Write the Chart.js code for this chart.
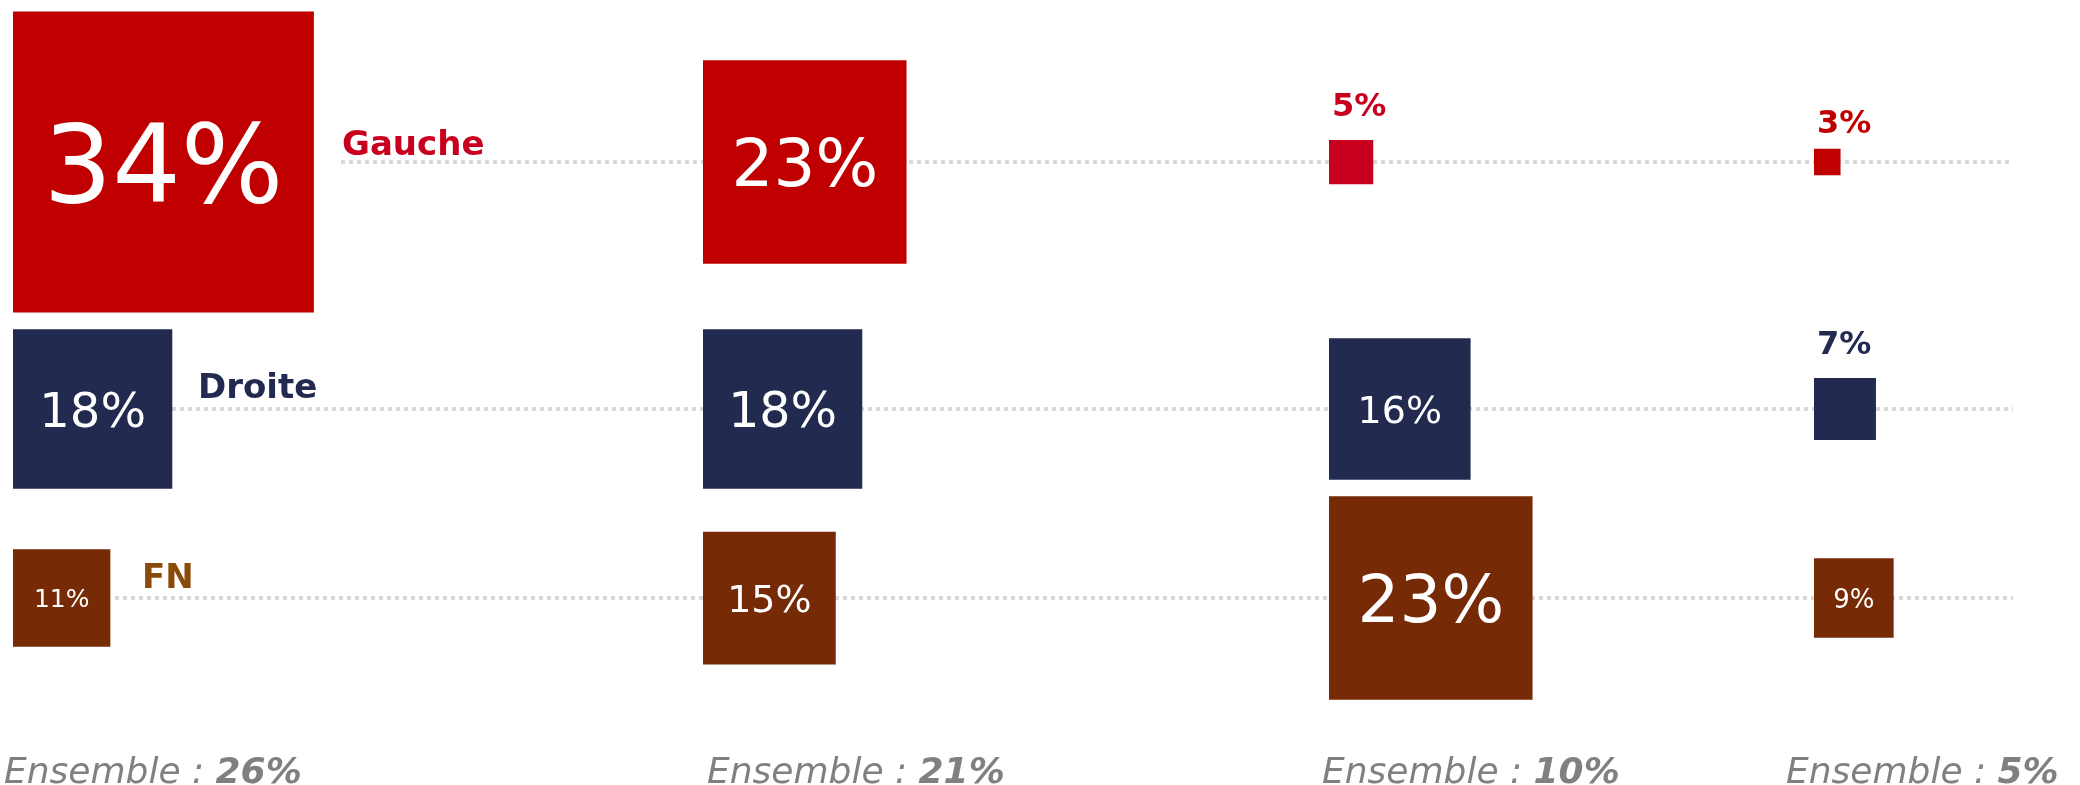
<!DOCTYPE html>
<html>
<head>
<meta charset="utf-8">
<script src="https://cdn.jsdelivr.net/npm/chart.js@4.4.1/dist/chart.umd.min.js"></script>
<style>
    html, body { margin: 0; padding: 0; background: #fff; }
    #wrap { width: 2080px; height: 785px; }
</style>
</head>
<body>
<div id="wrap"><canvas id="chart" width="2080" height="785"></canvas></div>
<script>
// Data: share per party, four groups
const parties = ['Gauche', 'Droite', 'FN'];
const gauche = [34, 23, 5, 3];
const droite = [18, 18, 16, 7];
const fn = [11, 15, 23, 9];
const ensemble = [26, 21, 10, 5];

// Layout, in the 2080x785 frame used by both axes
const W = 2080, H = 785;
const colLeft = [13, 703, 1329, 1814];
const rowY = [162, 409, 598];
const pxPerPoint = 8.85;
const lineStart = [341, 172, 115];
const lineEnd = 2013;
const rowLabelX = [342, 198, 142];
const rowLabelBase = [155, 398, 588];
const ensembleX = [4, 707, 1322, 1786];
const ensembleBase = 783;
// font size of the value written inside a square (0 = written above it)
const insideFont = [[108, 66, 0, 0], [48, 49, 38, 0], [25, 38, 66, 26]];

const boxColors = [
    ['#c00000', '#c00000', '#c8001e', '#c00000'],
    ['#222a50', '#222a50', '#222a50', '#222a50'],
    ['#772a06', '#772a06', '#772a06', '#772a06']
];
const labelColors = ['#c8001e', '#232a50', '#8a4a08'];
const gridColor = '#d9d9d9';
const font = '"DejaVu Sans", Verdana, sans-serif';

const series = [gauche, droite, fn];

function sidePx(chart, v) {
    const s = chart.scales.x;
    return s.getPixelForValue(v * pxPerPoint) - s.getPixelForValue(0);
}

// Dotted guide lines, drawn behind the squares
const lineSets = series.map((vals, r) => ({
    label: parties[r] + ' line',
    data: [{ x: lineStart[r], y: rowY[r] }, { x: lineEnd, y: rowY[r] }],
    showLine: true,
    borderColor: gridColor,
    borderWidth: 4,
    borderDash: [4, 4],
    pointRadius: 0,
    order: 2
}));

// Squares: side proportional to the value, left-aligned on each column
const boxSets = series.map((vals, r) => ({
    label: parties[r],
    data: vals.map((v, i) => ({ x: colLeft[i] + v * pxPerPoint / 2, y: rowY[r], v: v })),
    pointStyle: 'rect',
    pointRadius: ctx => ctx.raw ? sidePx(ctx.chart, ctx.raw.v) / (2 * Math.SQRT1_2) : 0,
    pointHoverRadius: ctx => ctx.raw ? sidePx(ctx.chart, ctx.raw.v) / (2 * Math.SQRT1_2) : 0,
    pointBorderWidth: 0,
    pointHoverBorderWidth: 0,
    backgroundColor: ctx => boxColors[r][ctx.dataIndex],
    pointBackgroundColor: ctx => boxColors[r][ctx.dataIndex],
    order: 1
}));

const labelsPlugin = {
    id: 'labels',
    afterDatasetsDraw(chart) {
        const ctx = chart.ctx;
        const xs = chart.scales.x, ys = chart.scales.y;
        ctx.save();

        boxSets.forEach((ds, r) => {
            const meta = chart.getDatasetMeta(lineSets.length + r);
            meta.data.forEach((el, i) => {
                const v = series[r][i];
                const side = sidePx(chart, v);
                const f = insideFont[r][i];
                if (f > 0) {
                    ctx.font = f + 'px ' + font;
                    ctx.fillStyle = '#ffffff';
                    ctx.textAlign = 'center';
                    ctx.textBaseline = 'alphabetic';
                    ctx.fillText(v + '%', el.x, el.y + f * 0.37);
                } else {
                    // small squares: value written above, in the party colour
                    ctx.font = 'bold 32px ' + font;
                    ctx.fillStyle = boxColors[r][i];
                    ctx.textAlign = 'left';
                    ctx.textBaseline = 'alphabetic';
                    const gap = side < 30 ? 16 : 24;
                    ctx.fillText(v + '%', el.x - side / 2 + 3, el.y - side / 2 - gap);
                }
            });
        });

        // Party names beside the first column
        parties.forEach((p, r) => {
            ctx.font = 'bold 34px ' + font;
            ctx.fillStyle = labelColors[r];
            ctx.textAlign = 'left';
            ctx.textBaseline = 'alphabetic';
            ctx.fillText(p, xs.getPixelForValue(rowLabelX[r]), ys.getPixelForValue(rowLabelBase[r]));
        });

        // "Ensemble" totals under each column
        ensemble.forEach((v, i) => {
            const x = xs.getPixelForValue(ensembleX[i]);
            const y = ys.getPixelForValue(ensembleBase);
            const head = 'Ensemble : ';
            ctx.fillStyle = '#808080';
            ctx.textAlign = 'left';
            ctx.textBaseline = 'alphabetic';
            ctx.font = 'italic 36px ' + font;
            ctx.fillText(head, x, y);
            const w = ctx.measureText(head).width;
            ctx.font = 'italic bold 36px ' + font;
            ctx.fillText(v + '%', x + w, y);
        });

        ctx.restore();
    }
};

new Chart(document.getElementById('chart'), {
    type: 'scatter',
    data: { datasets: lineSets.concat(boxSets) },
    options: {
        responsive: false,
        animation: false,
        events: [],
        layout: { padding: 0, autoPadding: false },
        plugins: { legend: { display: false }, tooltip: { enabled: false } },
        scales: {
            x: { type: 'linear', min: 0, max: W, display: false },
            y: { type: 'linear', min: 0, max: H, reverse: true, display: false }
        }
    },
    plugins: [labelsPlugin]
});
</script>
</body>
</html>
